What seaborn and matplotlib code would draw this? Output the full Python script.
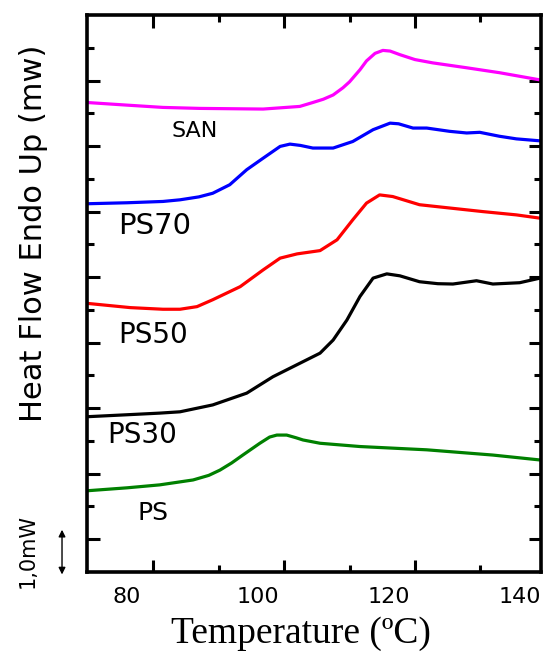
import matplotlib
matplotlib.use('Agg')
import matplotlib.pyplot as plt
import seaborn as sns
import pandas as pd

# temperatures (label scale of the x axis) and heat flow offsets
san_t = [73.9, 80.0, 85.5, 91.1, 100.8, 106.4, 108.4, 110.0, 111.5, 113.0, 114.0, 115.6, 116.6, 117.9, 119.1,
         120.2, 121.7, 124.0, 126.7, 131.9, 136.9, 143.1]
san_q = [14.33, 14.25, 14.18, 14.15, 14.13, 14.21, 14.33, 14.43, 14.56, 14.78, 14.96, 15.33, 15.60, 15.83, 15.92,
         15.90, 15.79, 15.64, 15.54, 15.39, 15.24, 15.02]

ps70_t = [73.9, 80.0, 85.5, 88.1, 91.0, 93.1, 95.7, 98.3, 100.8, 103.4, 104.9, 106.5, 108.4, 111.5, 114.5, 117.6,
          120.2, 121.5, 123.7, 125.8, 129.3, 131.9, 133.9, 136.9, 139.5, 143.1]
ps70_q = [11.24, 11.27, 11.31, 11.36, 11.45, 11.56, 11.82, 12.28, 12.63, 12.99, 13.06, 13.02, 12.94, 12.94, 13.14, 13.50,
          13.70, 13.68, 13.55, 13.55, 13.45, 13.40, 13.42, 13.30, 13.22, 13.16]

ps50_t = [73.9, 80.5, 85.5, 88.1, 90.7, 93.1, 97.3, 100.8, 103.4, 106.0, 109.5, 112.1, 114.5, 116.6, 118.6,
          120.6, 124.7, 129.3, 134.4, 139.5, 143.1]
ps50_q = [8.20, 8.07, 8.02, 8.02, 8.10, 8.31, 8.71, 9.22, 9.58, 9.71, 9.81, 10.14, 10.75, 11.26, 11.51,
          11.46, 11.21, 11.11, 11.00, 10.90, 10.80]

ps30_t = [73.9, 80.0, 85.0, 88.1, 93.1, 98.3, 102.3, 104.9, 109.5, 111.5, 113.6, 115.6, 117.6, 119.7, 121.7,
          124.7, 127.5, 129.8, 133.4, 135.9, 140.0, 143.1]
ps30_q = [4.74, 4.80, 4.85, 4.89, 5.10, 5.46, 5.96, 6.22, 6.68, 7.08, 7.69, 8.41, 8.97, 9.10, 9.04,
          8.86, 8.80, 8.79, 8.89, 8.79, 8.83, 8.97]

ps_t = [73.9, 80.0, 85.0, 90.1, 92.5, 94.2, 96.0, 97.7, 100.3, 101.8, 102.9, 104.4, 105.8, 106.9, 109.5,
        115.6, 125.8, 135.9, 143.1]
ps_q = [2.48, 2.57, 2.66, 2.81, 2.95, 3.11, 3.33, 3.57, 3.93, 4.12, 4.18, 4.18, 4.10, 4.03, 3.93,
        3.83, 3.73, 3.57, 3.42]

samples = ['SAN', 'PS70', 'PS50', 'PS30', 'PS']
colors = ['#ff00ff', '#0000ff', '#ff0000', '#000000', '#008000']
label_x = [90.3, 84.3, 84.0, 82.4, 84.0]
label_y = [13.47, 10.56, 7.24, 4.18, 1.80]
label_size = [16, 21, 20, 20, 18]

curves = [(san_t, san_q), (ps70_t, ps70_q), (ps50_t, ps50_q), (ps30_t, ps30_q), (ps_t, ps_q)]
rows = []
for name, (t, q) in zip(samples, curves):
    for a, b in zip(t, q):
        rows.append({'sample': name, 'temp': a, 'flow': b})
df = pd.DataFrame(rows)

sns.set_style('ticks', rc={'axes.edgecolor': 'black', 'text.color': 'black',
                           'xtick.color': 'black', 'ytick.color': 'black'})
plt.rcParams['font.family'] = ['DejaVu Sans']

fig = plt.figure(figsize=(5.44, 6.53), dpi=100)
ax = fig.add_axes([0.16, 0.124, 0.835, 0.853])

sns.lineplot(data=df, x='temp', y='flow', hue='sample', palette=dict(zip(samples, colors)),
             hue_order=samples, sort=True, estimator=None, linewidth=2.3, legend=False, ax=ax)
for ln in ax.lines:
    ln.set_solid_joinstyle('round')
    ln.set_solid_capstyle('butt')

for name, lx, ly, fs in zip(samples, label_x, label_y, label_size):
    ax.text(lx, ly, name, fontsize=fs, ha='center', va='center', color='black')

ax.set_xlim(73.9, 143.3)
ax.set_ylim(0, 17)

# tick marks sit a little right of the numbers, as in the original
ax.set_xticks([84, 104, 124])
ax.set_xticks([94, 114, 134], minor=True)
ax.set_yticks([1, 3, 5, 7, 9, 11, 13, 15])
ax.set_yticks([2, 4, 6, 8, 10, 12, 14, 16], minor=True)
ax.tick_params(which='major', direction='in', length=9, width=2.2, top=True, right=True,
               labelbottom=False, labelleft=False)
ax.tick_params(which='minor', direction='in', length=5, width=2.2, top=True, right=True)
for s in ax.spines.values():
    s.set_linewidth(2.6)

sec = ax.secondary_xaxis('bottom')
sec.set_xticks([80, 100, 120, 140])
sec.tick_params(length=0, labelsize=16, pad=11)
sec.spines['bottom'].set_visible(False)

ax.set_xlabel('')
ax.set_ylabel('')
fig.text(0.553, 0.03, 'Temperature (ºC)', family='Liberation Serif', fontsize=27,
         ha='center', va='center')
fig.text(0.061, 0.642, 'Heat Flow Endo Up (mw)', fontsize=22,
         rotation=90, ha='center', va='center')
fig.text(0.051, 0.156, '1,0mW', fontsize=15, rotation=90, ha='center', va='center')
fig.add_artist(matplotlib.patches.FancyArrowPatch((0.114, 0.193), (0.114, 0.116), transform=fig.transFigure,
                                                  arrowstyle='<|-|>', mutation_scale=10, lw=1, color='black'))

fig.savefig('out.png', dpi=100)
